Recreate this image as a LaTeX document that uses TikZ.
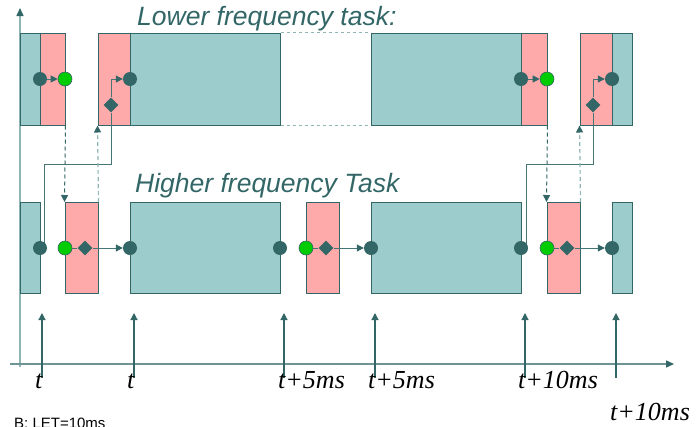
\documentclass[tikz,border=0pt]{standalone}
\usepackage{fontspec}
\setmainfont{Liberation Serif}
\setsansfont{Liberation Sans}
\usetikzlibrary{arrows.meta,shapes.geometric}

\definecolor{slate}{HTML}{336666}
\definecolor{runfill}{HTML}{9CCCCC}
\definecolor{letfill}{HTML}{FFAAAA}
\definecolor{hazeline}{HTML}{8FB5B5}
\definecolor{okgreen}{HTML}{00CC00}

\pgfdeclarelayer{front}
\pgfsetlayers{main,front}

\tikzset{
  tip/.style={-{Triangle[length=7pt,width=7pt,color=slate]}},
  exec/.style={draw=slate, line width=1pt, fill=runfill, inner sep=0pt},
  comm/.style={draw=slate, line width=1pt, fill=letfill, inner sep=0pt},
  dot/.style={circle, fill=slate, minimum size=14pt, inner sep=0pt},
  gdot/.style={circle, fill=okgreen, draw=slate, line width=0.6pt, minimum size=14pt, inner sep=0pt},
  lozenge/.style={diamond, fill=slate, minimum size=15pt, inner sep=0pt},
  wire/.style={draw=slate!90, line width=1pt},
  title/.style={font=\sffamily\itshape\fontsize{26.5}{26.5}\selectfont, text=slate, inner sep=0pt},
  stamp/.style={font=\itshape\fontsize{26}{26}\selectfont, inner sep=0pt},
}

\begin{document}
\begin{tikzpicture}[x=1pt,y=-1pt]
\useasboundingbox (0,0) rectangle (696,426);

% time axes
\coordinate (O) at (20,367);
\coordinate (Ytop) at (20,8);
\coordinate (Xstart) at (10,364);
\coordinate (Xend) at (674,364);
\draw[hazeline, line width=1.5pt, -{Triangle[length=8pt,width=7pt,color=slate]}] (O) -- (Ytop);
\draw[slate!70, line width=1.5pt, -{Triangle[length=8pt,width=7pt,color=slate]}] (Xstart) -- (Xend);

% titles
\node[title, anchor=base west] (lowtitle) at (137,25) {Lower frequency task:};
\node[title, anchor=base west] (hightitle) at (135,192) {Higher frequency Task};

% lower frequency task
\begin{scope}[every node/.style={minimum height=92pt}]
  \node[exec, minimum width=20pt]  (L1) at (30,79)  {};
  \node[comm, minimum width=25pt]  (L2) at (52.5,79) {};
  \node[comm, minimum width=32pt]  (L3) at (114,79) {};
  \node[exec, minimum width=150pt] (L4) at (205,79) {};
  \node[exec, minimum width=150pt] (L5) at (446,79) {};
  \node[comm, minimum width=26pt]  (L6) at (534,79) {};
  \node[comm, minimum width=32pt]  (L7) at (596,79) {};
  \node[exec, minimum width=20pt]  (L8) at (622,79) {};
\end{scope}

% higher frequency task
\begin{scope}[every node/.style={minimum height=91pt}]
  \node[exec, minimum width=20pt]  (H1) at (30,248)  {};
  \node[comm, minimum width=33pt]  (H2) at (81.5,248) {};
  \node[exec, minimum width=150pt] (H3) at (205,248) {};
  \node[comm, minimum width=33pt]  (H4) at (322.5,248) {};
  \node[exec, minimum width=150pt] (H5) at (446,248) {};
  \node[comm, minimum width=33pt]  (H6) at (563.5,248) {};
  \node[exec, minimum width=20pt]  (H7) at (622,248) {};
\end{scope}

\draw[hazeline, line width=1pt, dash pattern=on 3pt off 3pt] (L4.north east) -- (L5.north west);
\draw[hazeline, line width=1pt, dash pattern=on 3pt off 3pt] (L4.south east) -- (L5.south west);

% read / write points
\begin{pgfonlayer}{front}
  \node[dot]     (cA) at (40,79) {};
  \node[gdot]    (gA) at (65,79) {};
  \node[dot]     (dB) at (130,79) {};
  \node[lozenge] (mB) at (111,105) {};
  \node[dot]     (cC) at (521,79) {};
  \node[gdot]    (gC) at (547,79) {};
  \node[dot]     (dD) at (612,79) {};
  \node[lozenge] (mD) at (593,105) {};

  \node[dot]     (c1) at (40,248) {};
  \node[gdot]    (g2) at (65,248) {};
  \node[lozenge] (m2) at (85,248) {};
  \node[dot]     (c3) at (130,248) {};
  \node[dot]     (c4) at (280,248) {};
  \node[gdot]    (g5) at (306,248) {};
  \node[lozenge] (m5) at (326,248) {};
  \node[dot]     (c6) at (371,248) {};
  \node[dot]     (c7) at (521,248) {};
  \node[gdot]    (g8) at (547,248) {};
  \node[lozenge] (m8) at (567,248) {};
  \node[dot]     (c9) at (612,248) {};
\end{pgfonlayer}

\coordinate (kA) at (111,164);
\coordinate (kD) at (593,164);

\begin{scope}[every path/.style={wire}]
  \path (cA) edge[tip] (gA);
  \path (cC) edge[tip] (gC);
  \path (g2) edge (m2);
  \path (m2) edge[tip] (c3);
  \path (g5) edge (m5);
  \path (m5) edge[tip] (c6);
  \path (g8) edge (m8);
  \path (m8) edge[tip] (c9);
  \draw (c1.center) ++(4,0) |- (kA) -- (mB);
  \draw[tip] (mB) |- (dB);
  \draw (c7.center) ++(5,0) |- (kD) -- (mD);
  \draw[tip] (mD) |- (dD);
\end{scope}

% data hand-over
\draw[slate, line width=1pt, dash pattern=on 4pt off 3pt, tip] (L2.south east) -- (H2.north west);
\draw[hazeline, line width=1.2pt, dash pattern=on 4pt off 3pt, tip] (H2.north east) -- (L3.south west);
\draw[slate, line width=1pt, dash pattern=on 4pt off 3pt, tip] (L6.south east) -- (H6.north west);
\draw[hazeline, line width=1.2pt, dash pattern=on 4pt off 3pt, tip] (H6.north east) -- (L7.south west);

% release instants
\foreach \x/\lbl/\lx/\ly [count=\i] in {42/t/35/388, 134/t/127/388, 284/t+5ms/278/388,
    375/t+5ms/368/388, 525/t+10ms/518/388, 616/t+10ms/610/420} {
  \coordinate (r\i) at (\x,378);
  \draw[slate, line width=1.2pt, tip] (r\i) -- ++(0,-65);
  \node[stamp, anchor=base west] (s\i) at (\lx,\ly) {\lbl};
}

\node[font=\sffamily\fontsize{15}{15}\selectfont, inner sep=0pt, anchor=north west] (let) at (14,418) {B: LET=10ms};

\end{tikzpicture}
\end{document}
